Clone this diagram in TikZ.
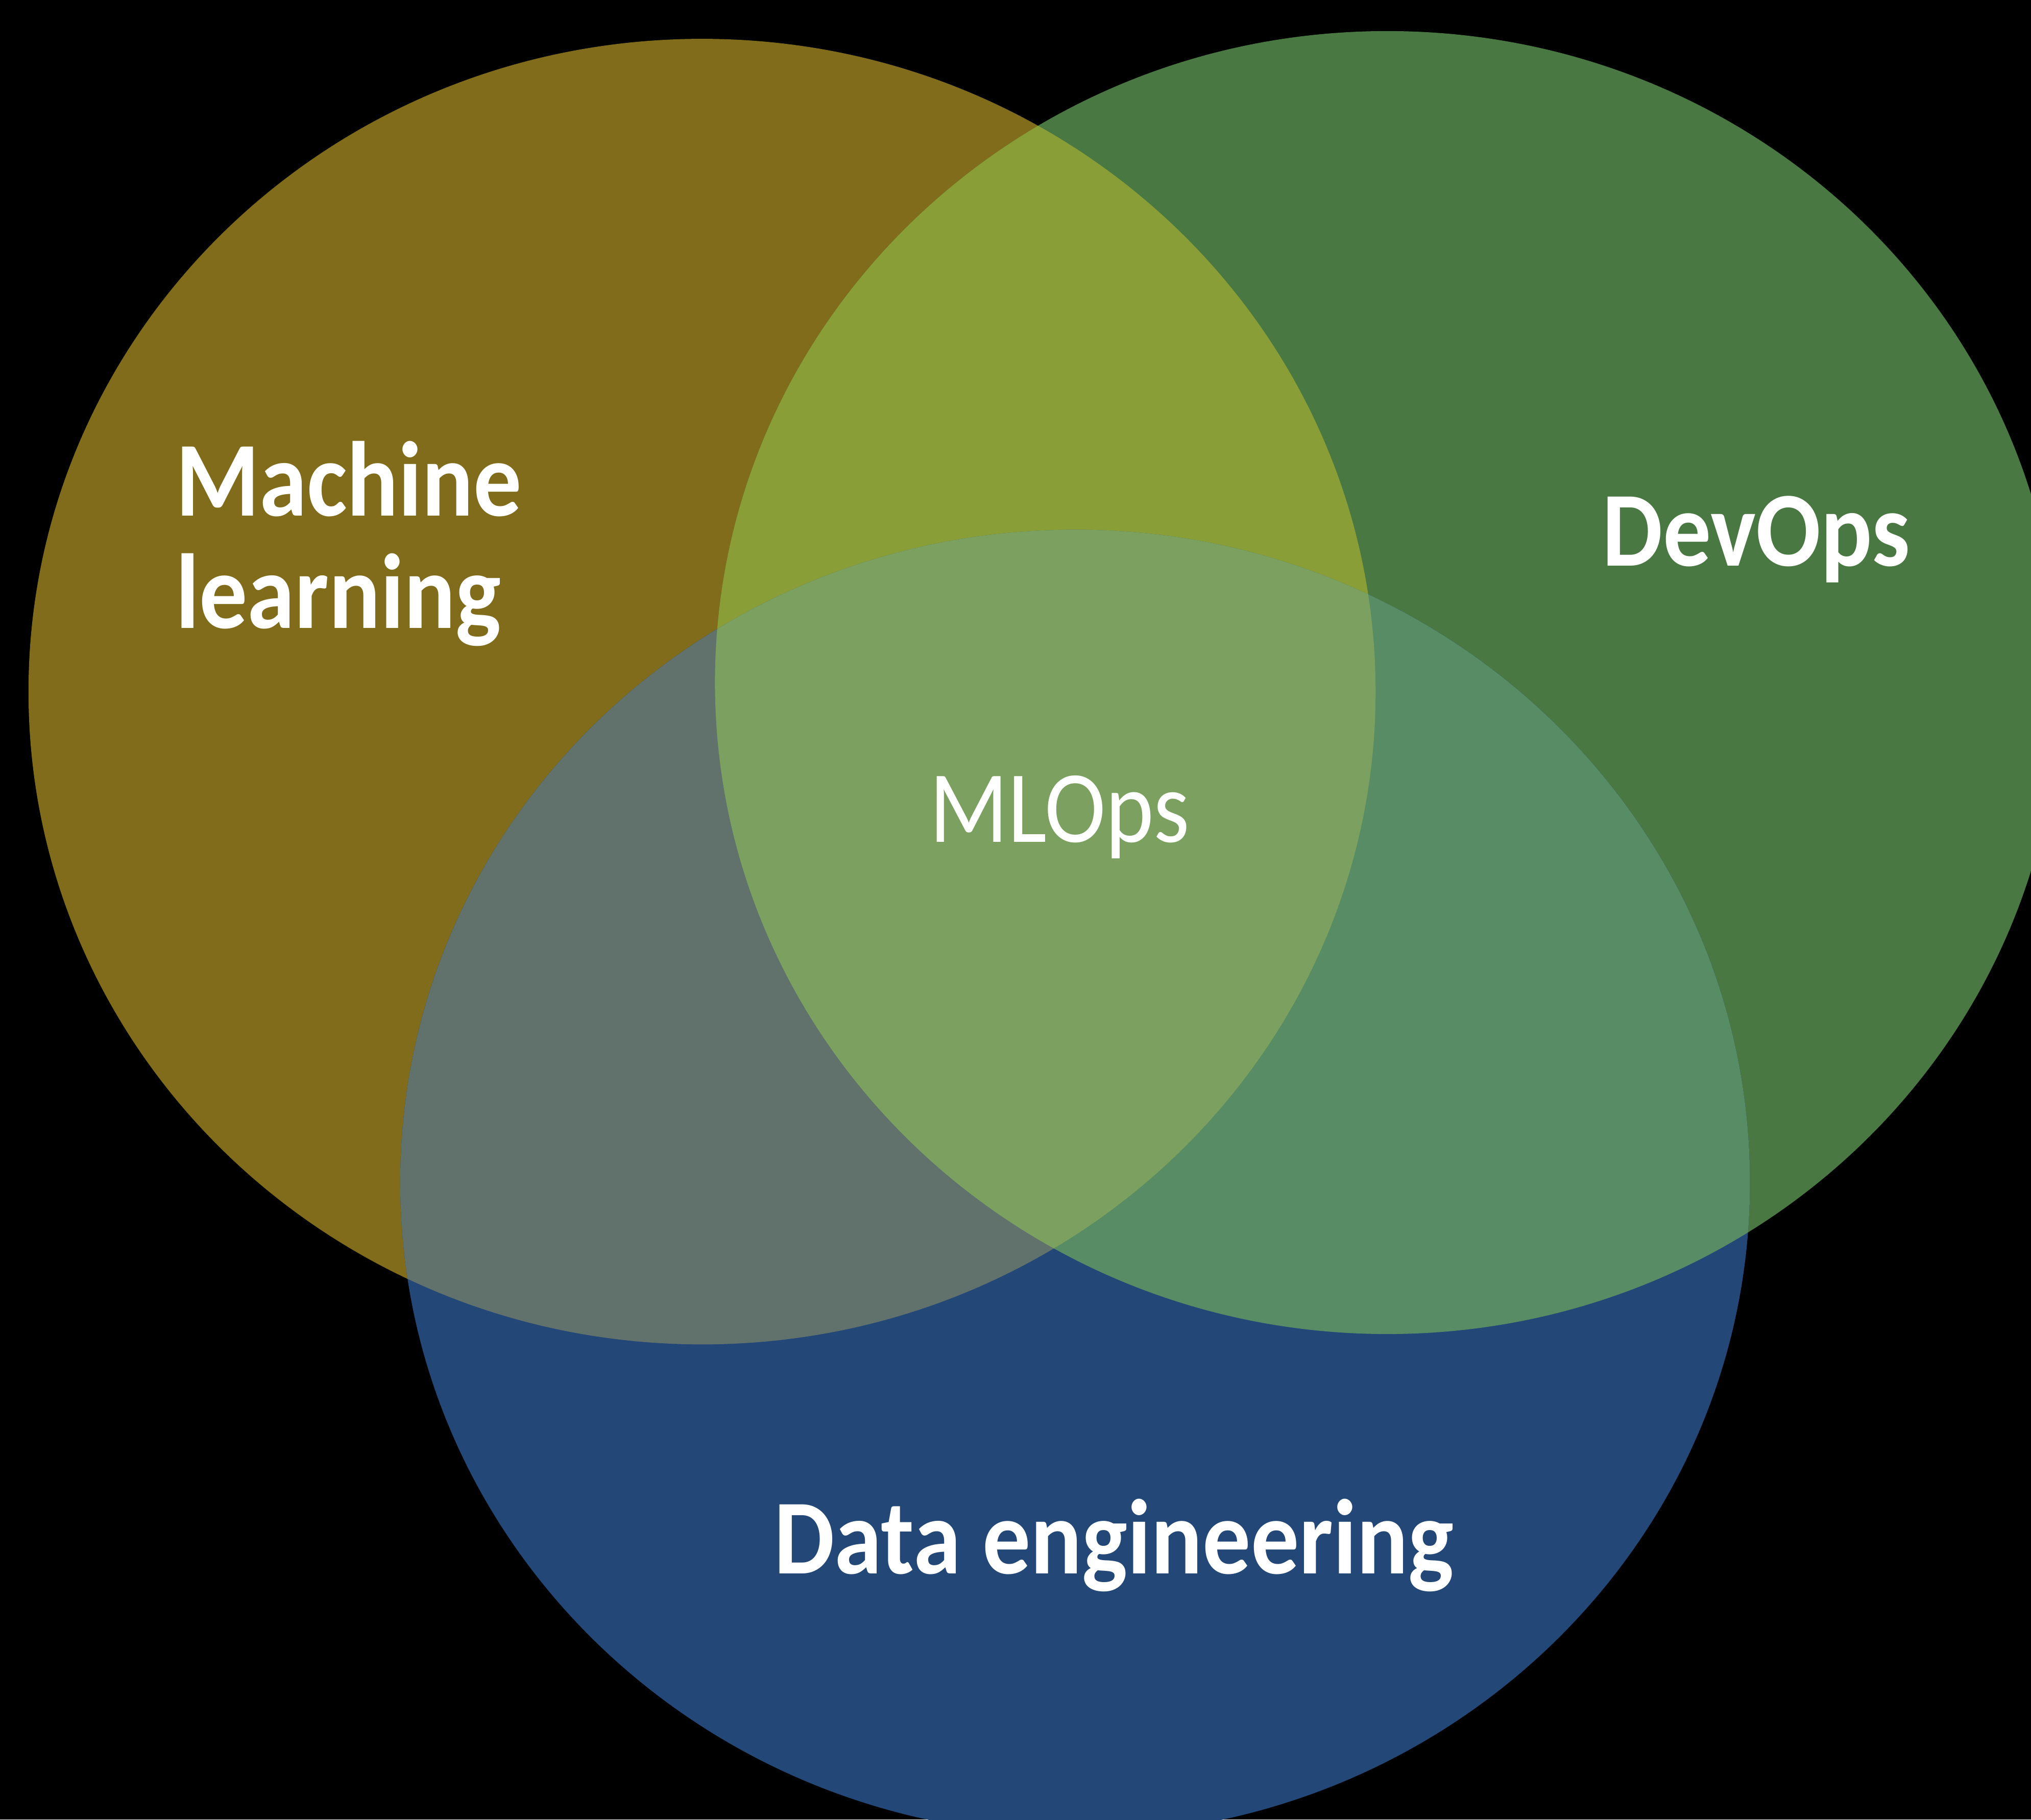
\documentclass[tikz,border=0pt]{standalone}
\usepackage{fontspec}
\newfontfamily\vennfont{Carlito}[FakeStretch=0.9]

\definecolor{mlfill}{HTML}{806C1A}
\definecolor{devfill}{HTML}{4A7842}
\definecolor{datafill}{HTML}{234878}
\definecolor{mldevfill}{HTML}{8A9E37}
\definecolor{mldatafill}{HTML}{61716B}
\definecolor{devdatafill}{HTML}{578C64}
\definecolor{corefill}{HTML}{7BA05F}

% the three sets
\newcommand\mlset{(542,534) ellipse [x radius=520, y radius=504]}
\newcommand\devset{(1071,527) ellipse [x radius=519, y radius=503]}
\newcommand\dataset{(830,913) ellipse [x radius=521, y radius=504]}

\begin{document}
\begin{tikzpicture}[
  x=0.1mm, y=-0.1mm,
  setname/.style={text=white, inner sep=0pt,
    font=\vennfont\bfseries\fontsize{23.4}{24.7}\selectfont},
  corename/.style={text=white, inner sep=0pt,
    font=\vennfont\fontsize{22.5}{24}\selectfont}
]
\useasboundingbox (0,0) rectangle (1568,1405);
\clip (0,0) rectangle (1568,1405);
\fill[black] (0,0) rectangle (1568,1405);

\fill[mlfill] \mlset;
\fill[devfill] \devset;
\fill[datafill] \dataset;

% overlaps
\begin{scope}
  \clip \mlset;
  \fill[mldevfill] \devset;
  \fill[mldatafill] \dataset;
\end{scope}
\begin{scope}
  \clip \devset;
  \fill[devdatafill] \dataset;
\end{scope}
\begin{scope}
  \clip \mlset;
  \clip \devset;
  \fill[corefill] \dataset;
\end{scope}

\node[setname, align=left, anchor=north west] (ml) at (135,340) {Machine\\learning};
\node[setname, anchor=base] (dev) at (1356,437) {DevOps};
\node[setname, anchor=base] (data) at (860,1215) {Data engineering};
\node[corename, anchor=base] (mlops) at (818,650) {MLOps};
\end{tikzpicture}
\end{document}
